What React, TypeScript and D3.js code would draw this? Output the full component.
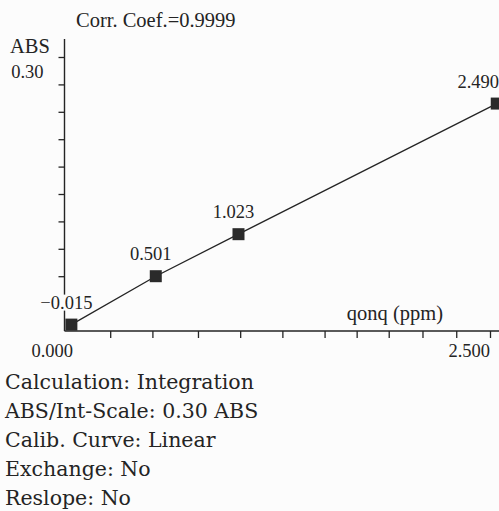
import * as d3 from "d3";
import { useEffect, useRef } from "react";

const width = 499;
const height = 511;

// calibration points: concentration (ppm) vs absorbance, with the printed results
const concentrations = [0.02, 0.52, 1.01, 2.54];
const absorbances = [0.007, 0.06, 0.106, 0.249];
const pointLabels = ["\u22120.015", "0.501", "1.023", "2.490"];

// tick marks as they sit on the printout
const xTicks = [0.25, 0.5, 0.77, 1.02, 1.27, 1.52, 1.71, 1.9, 2.1, 2.3, 2.5];
const yTicks = [0.03, 0.06, 0.09, 0.12, 0.15, 0.18, 0.21, 0.24, 0.27, 0.3];

const title = "Corr. Coef.=0.9999";
const yTitle = "ABS";
const yTopLabel = "0.30";
const xTitle = "qonq (ppm)";
const xEndLabels = ["0.000", "2.500"];

const infoLines = [
  "Calculation: Integration",
  "ABS/Int-Scale: 0.30 ABS",
  "Calib. Curve: Linear",
  "Exchange: No",
  "Reslope: No",
];

export default function App() {
  const svgRef = useRef<SVGSVGElement>(null);

  useEffect(() => {
    const svg = d3.select(svgRef.current);
    svg.selectAll("*").remove();

    const ink = "#242424";
    const serif = "'Liberation Serif', 'Times New Roman', serif";
    const wideSerif = "'DejaVu Serif', serif";

    const x = d3.scaleLinear().domain([0, 2.5]).range([68, 490]);
    const y = d3.scaleLinear().domain([0, 0.3]).range([331, 57]);
    const axisX = 64.5;

    svg
      .append("rect")
      .attr("width", width)
      .attr("height", height)
      .attr("fill", "#fcfcfc");

    // axes lines (the printout runs them past the tick range)
    svg
      .append("line")
      .attr("x1", axisX)
      .attr("x2", axisX)
      .attr("y1", 39)
      .attr("y2", y(0))
      .attr("stroke", ink)
      .attr("stroke-width", 1.4);
    svg
      .append("line")
      .attr("x1", axisX)
      .attr("x2", width)
      .attr("y1", y(0))
      .attr("y2", y(0))
      .attr("stroke", ink)
      .attr("stroke-width", 1.4);

    // tick marks from d3 axes, labels drawn separately
    const yAxis = svg
      .append("g")
      .attr("transform", `translate(${axisX},0)`)
      .call(
        d3
          .axisLeft(y)
          .tickValues(yTicks)
          .tickSize(6)
          .tickFormat(() => "")
      );
    const xAxis = svg
      .append("g")
      .attr("transform", `translate(0,${y(0)})`)
      .call(
        d3
          .axisBottom(x)
          .tickValues(xTicks)
          .tickSize(7)
          .tickFormat(() => "")
      );
    [yAxis, xAxis].forEach((g) => {
      g.select(".domain").remove();
      g.selectAll("line").attr("stroke", ink).attr("stroke-width", 1.3);
    });

    // calibration line
    const pts = concentrations.map((c, i) => ({
      c,
      a: absorbances[i],
      label: pointLabels[i],
    }));
    svg
      .append("path")
      .datum(pts)
      .attr("fill", "none")
      .attr("stroke", ink)
      .attr("stroke-width", 1.3)
      .attr(
        "d",
        d3
          .line<{ c: number; a: number }>()
          .x((d) => x(d.c))
          .y((d) => y(d.a))
      );

    const size = 12;
    svg
      .selectAll(".marker")
      .data(pts)
      .join("rect")
      .attr("x", (d) => x(d.c) - size / 2)
      .attr("y", (d) => y(d.a) - size / 2)
      .attr("width", size)
      .attr("height", size)
      .attr("fill", "#2a2a2a");

    // point value labels with a paper-coloured backing
    const labels = svg
      .selectAll(".plabel")
      .data(pts)
      .join("g")
      .attr("class", "plabel");
    labels
      .append("text")
      .attr("font-family", serif)
      .attr("font-size", 18.5)
      .attr("fill", ink)
      .attr("text-anchor", "middle")
      .attr("y", (d) => y(d.a) - 16)
      .text((d) => d.label)
      .each(function (d) {
        const node = this as SVGTextElement;
        const w = node.getComputedTextLength();
        const cx = Math.min(x(d.c) - 5, width - w / 2);
        d3.select(node).attr("x", cx);
        const b = node.getBBox();
        d3.select(node.parentNode as SVGGElement)
          .insert("rect", "text")
          .attr("x", b.x - 1)
          .attr("y", b.y + 2)
          .attr("width", b.width + 2)
          .attr("height", b.height - 4)
          .attr("fill", "#fcfcfc");
      });

    const addText = (
      txt: string,
      tx: number,
      ty: number,
      size: number,
      family: string,
      anchor = "start"
    ) =>
      svg
        .append("text")
        .attr("x", tx)
        .attr("y", ty)
        .attr("font-family", family)
        .attr("font-size", size)
        .attr("fill", ink)
        .attr("text-anchor", anchor)
        .text(txt);

    addText(title, 76, 27, 20.5, serif);
    addText(yTitle, axisX - 54.5, y(0.3) - 4, 20.5, serif);
    addText(yTopLabel, axisX - 21, y(0.3) + 21, 18.5, serif, "end");
    addText(xTitle, 443, y(0) - 11, 20.5, serif, "end");
    addText(xEndLabels[0], x(0) + 5, y(0) + 26, 18.5, serif, "end");
    addText(xEndLabels[1], x(2.5), y(0) + 26, 18.5, serif, "end");

    infoLines.forEach((line, i) => {
      addText(line, 5, 389 + i * 29, 20.5, wideSerif);
    });
  }, []);

  return (
    <svg
      ref={svgRef}
      width={width}
      height={height}
      style={{ position: "absolute", left: 0, top: 0 }}
    />
  );
}
